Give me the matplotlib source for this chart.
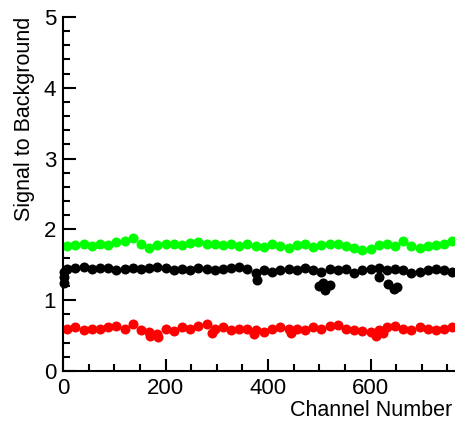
import numpy as np
import matplotlib
matplotlib.use("Agg")
import matplotlib.pyplot as plt
from matplotlib.ticker import MultipleLocator

plt.rcParams['font.family'] = ['Liberation Sans', 'DejaVu Sans']

channels = list(range(8, 768, 16))

green_vals = [1.76, 1.78, 1.79, 1.77, 1.80, 1.78, 1.82, 1.84, 1.88, 1.80, 1.74, 1.78,
              1.80, 1.79, 1.78, 1.81, 1.82, 1.79, 1.80, 1.78, 1.79, 1.77, 1.80, 1.76,
              1.75, 1.79, 1.77, 1.74, 1.78, 1.80, 1.75, 1.78, 1.80, 1.79, 1.77, 1.74,
              1.71, 1.73, 1.78, 1.80, 1.76, 1.84, 1.77, 1.74, 1.76, 1.78, 1.80, 1.84]

black_vals = [1.44, 1.45, 1.47, 1.44, 1.46, 1.45, 1.43, 1.44, 1.46, 1.44, 1.45, 1.47,
              1.46, 1.42, 1.44, 1.43, 1.46, 1.44, 1.42, 1.44, 1.45, 1.47, 1.44, 1.38,
              1.42, 1.40, 1.43, 1.44, 1.42, 1.45, 1.43, 1.40, 1.44, 1.42, 1.44, 1.39,
              1.43, 1.44, 1.45, 1.42, 1.44, 1.43, 1.38, 1.40, 1.42, 1.44, 1.43, 1.40]

black_extra_ch = [1, 2, 2, 379, 500, 512, 520, 508, 616, 634, 645, 652]
black_extra_vals = [1.25, 1.33, 1.40, 1.28, 1.20, 1.15, 1.22, 1.25, 1.33, 1.23, 1.16, 1.19]

red_vals = [0.60, 0.62, 0.58, 0.60, 0.59, 0.62, 0.64, 0.60, 0.66, 0.58, 0.55, 0.52,
            0.60, 0.57, 0.62, 0.60, 0.64, 0.66, 0.60, 0.62, 0.58, 0.60, 0.60, 0.58,
            0.55, 0.60, 0.62, 0.59, 0.60, 0.58, 0.62, 0.60, 0.63, 0.65, 0.60, 0.58,
            0.56, 0.55, 0.58, 0.62, 0.64, 0.60, 0.58, 0.62, 0.60, 0.58, 0.60, 0.62]

red_extra_ch = [170, 186, 290, 372, 445, 610, 625]
red_extra_vals = [0.50, 0.48, 0.53, 0.52, 0.54, 0.50, 0.53]

fig = plt.figure(figsize=(4.55, 4.22), dpi=100)
ax = fig.add_axes([63 / 455, 1 - 371 / 422, 393.6 / 455, (371 - 17) / 422])

ms = 7.2
ax.plot(channels, green_vals, 'o', color='#00ff00', ms=ms, mew=0, clip_on=False)
ax.plot(channels, black_vals, 'o', color='black', ms=ms, mew=0, clip_on=False)
ax.plot(black_extra_ch, black_extra_vals, 'o', color='black', ms=ms, mew=0, clip_on=False)
ax.plot(channels, red_vals, 'o', color='#ff0000', ms=ms, mew=0, clip_on=False)
ax.plot(red_extra_ch, red_extra_vals, 'o', color='#ff0000', ms=ms, mew=0, clip_on=False)

ax.set_xlim(0, 768)
ax.set_ylim(0, 5)
ax.xaxis.set_major_locator(MultipleLocator(200))
ax.xaxis.set_minor_locator(MultipleLocator(50))
ax.yaxis.set_major_locator(MultipleLocator(1))
ax.yaxis.set_minor_locator(MultipleLocator(0.2))

for s in ['top', 'right']:
    ax.spines[s].set_visible(False)
for s in ['left', 'bottom']:
    ax.spines[s].set_linewidth(1.5)

ax.tick_params(which='major', direction='in', length=9, width=1.5, labelsize=16, pad=5)
ax.tick_params(which='minor', direction='in', length=5, width=1.5)

ax.set_xlabel('Channel Number', fontsize=15.5, ha='right')
ax.xaxis.set_label_coords(0.988, -0.082)
ax.set_ylabel('Signal to Background', fontsize=15.5, ha='right')
ax.yaxis.set_label_coords(-0.07, 1.0)

fig.savefig('out.png', dpi=100)
